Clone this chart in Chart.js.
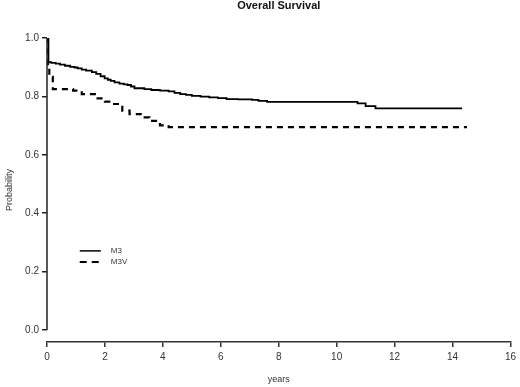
<!DOCTYPE html>
<html>
<head>
<meta charset="utf-8">
<script src="https://cdn.jsdelivr.net/npm/chart.js@4/dist/chart.umd.min.js"></script>
<style>
  html, body { margin: 0; padding: 0; background: #fff; }
  #wrap { width: 520px; height: 387px; }
</style>
</head>
<body>
<div id="wrap"><canvas id="myChart" width="520" height="387"></canvas></div>
<script>
// Kaplan-Meier curves
const m3Years = [0, 0.05, 0.15, 0.3, 0.45, 0.62, 0.8, 0.95, 1.06, 1.2, 1.35, 1.55, 1.7, 1.85, 1.99, 2.1, 2.2, 2.33, 2.5, 2.65, 2.78, 2.9, 3.02, 3.36, 3.6, 3.9, 4.2, 4.4, 4.6, 4.8, 5.0, 5.3, 5.6, 5.9, 6.2, 6.6, 7.08, 7.3, 7.6, 10.72, 11.0, 11.34, 14.33]
const m3Surv = [1.0, 0.917, 0.915, 0.912, 0.909, 0.905, 0.901, 0.899, 0.896, 0.892, 0.888, 0.883, 0.877, 0.869, 0.862, 0.857, 0.853, 0.848, 0.844, 0.841, 0.839, 0.834, 0.828, 0.825, 0.822, 0.820, 0.817, 0.812, 0.808, 0.805, 0.802, 0.799, 0.797, 0.794, 0.791, 0.790, 0.788, 0.785, 0.781, 0.776, 0.767, 0.759, 0.759]

const m3vYears = [0, 0.03, 0.08, 0.2, 0.9, 1.2, 1.65, 2.0, 2.2, 2.6, 2.85, 3.3, 3.54, 3.9, 4.2, 14.5]
const m3vSurv = [1.0, 0.90, 0.867, 0.825, 0.82, 0.808, 0.793, 0.782, 0.774, 0.751, 0.739, 0.728, 0.716, 0.701, 0.695, 0.695]

const yTicks = [0, 0.2, 0.4, 0.6, 0.8, 1.0]
const seriesNames = ["M3", "M3V"]

const toPoints = (xs, ys) => xs.map((x, i) => ({ x: x, y: ys[i] }))

// y axis line only spans 0..1, like the R plot
const yAxisLine = {
  id: "yAxisLine",
  afterDraw(chart) {
    const { ctx, chartArea, scales } = chart
    ctx.save()
    ctx.strokeStyle = "#222"
    ctx.lineWidth = 1.5
    ctx.beginPath()
    ctx.moveTo(chartArea.left, scales.y.getPixelForValue(0))
    ctx.lineTo(chartArea.left, scales.y.getPixelForValue(1))
    ctx.stroke()
    ctx.restore()
  }
}

const innerLegend = {
  id: "innerLegend",
  afterDraw(chart) {
    const { ctx, scales } = chart
    const x0 = scales.x.getPixelForValue(1.13)
    const x1 = scales.x.getPixelForValue(1.86)
    const rows = [scales.y.getPixelForValue(0.271), scales.y.getPixelForValue(0.233)]
    ctx.save()
    ctx.font = "8px 'Liberation Sans', Arial, sans-serif"
    ctx.textBaseline = "middle"
    rows.forEach((y, i) => {
      ctx.strokeStyle = "#000"
      ctx.lineWidth = i === 0 ? 1.5 : 2
      ctx.setLineDash(i === 0 ? [] : [7, 5])
      ctx.beginPath()
      ctx.moveTo(x0, y)
      ctx.lineTo(x1, y)
      ctx.stroke()
      ctx.fillStyle = "#333"
      ctx.fillText(seriesNames[i], x1 + 10, y)
    })
    ctx.restore()
  }
}

new Chart(document.getElementById("myChart").getContext("2d"), {
  type: "line",
  data: {
    datasets: [
      {
        label: seriesNames[0],
        data: toPoints(m3Years, m3Surv),
        borderColor: "#000",
        borderWidth: 1.8,
        pointRadius: 0,
        stepped: true,
        fill: false
      },
      {
        label: seriesNames[1],
        data: toPoints(m3vYears, m3vSurv),
        borderColor: "#000",
        borderWidth: 2.2,
        borderDash: [6, 5],
        pointRadius: 0,
        stepped: true,
        fill: false
      }
    ]
  },
  options: {
    responsive: false,
    animation: false,
    layout: { padding: { left: 0, right: 7, top: 0, bottom: 0 } },
    plugins: {
      legend: { display: false },
      tooltip: { enabled: false },
      title: {
        display: true,
        text: "Overall Survival",
        fullSize: false,
        color: "#111",
        font: { family: "'Liberation Sans', Arial, sans-serif", size: 11, weight: "bold", lineHeight: 1.0 },
        padding: { top: 0, bottom: 27 }
      }
    },
    scales: {
      x: {
        type: "linear",
        min: 0,
        max: 16,
        ticks: {
          stepSize: 2,
          color: "#333",
          padding: 4,
          maxRotation: 0,
          font: { family: "'Liberation Sans', Arial, sans-serif", size: 10 }
        },
        grid: { display: true, drawOnChartArea: false, drawTicks: true, tickLength: 5, color: "#333", lineWidth: 1.5 },
        border: { display: true, color: "#333", width: 1.5 },
        title: {
          display: true,
          text: "years",
          color: "#333",
          font: { family: "'Liberation Sans', Arial, sans-serif", size: 9 },
          padding: { top: 6, bottom: 2 }
        },
        afterFit(scale) { scale.height = 45 }
      },
      y: {
        type: "linear",
        min: -0.041,
        max: 1.0,
        afterBuildTicks(scale) { scale.ticks = yTicks.map(v => ({ value: v })) },
        ticks: {
          color: "#333",
          padding: 3,
          callback: v => v.toFixed(1),
          font: { family: "'Liberation Sans', Arial, sans-serif", size: 10 }
        },
        grid: { display: true, drawOnChartArea: false, drawTicks: true, tickLength: 5, color: "#222", lineWidth: 1.5 },
        border: { display: false },
        title: {
          display: true,
          text: "Probability",
          color: "#333",
          font: { family: "'Liberation Sans', Arial, sans-serif", size: 9 },
          padding: { top: 4, bottom: 4 }
        },
        afterFit(scale) { scale.width = 47 }
      }
    }
  },
  plugins: [yAxisLine, innerLegend]
})
</script>
</body>
</html>
